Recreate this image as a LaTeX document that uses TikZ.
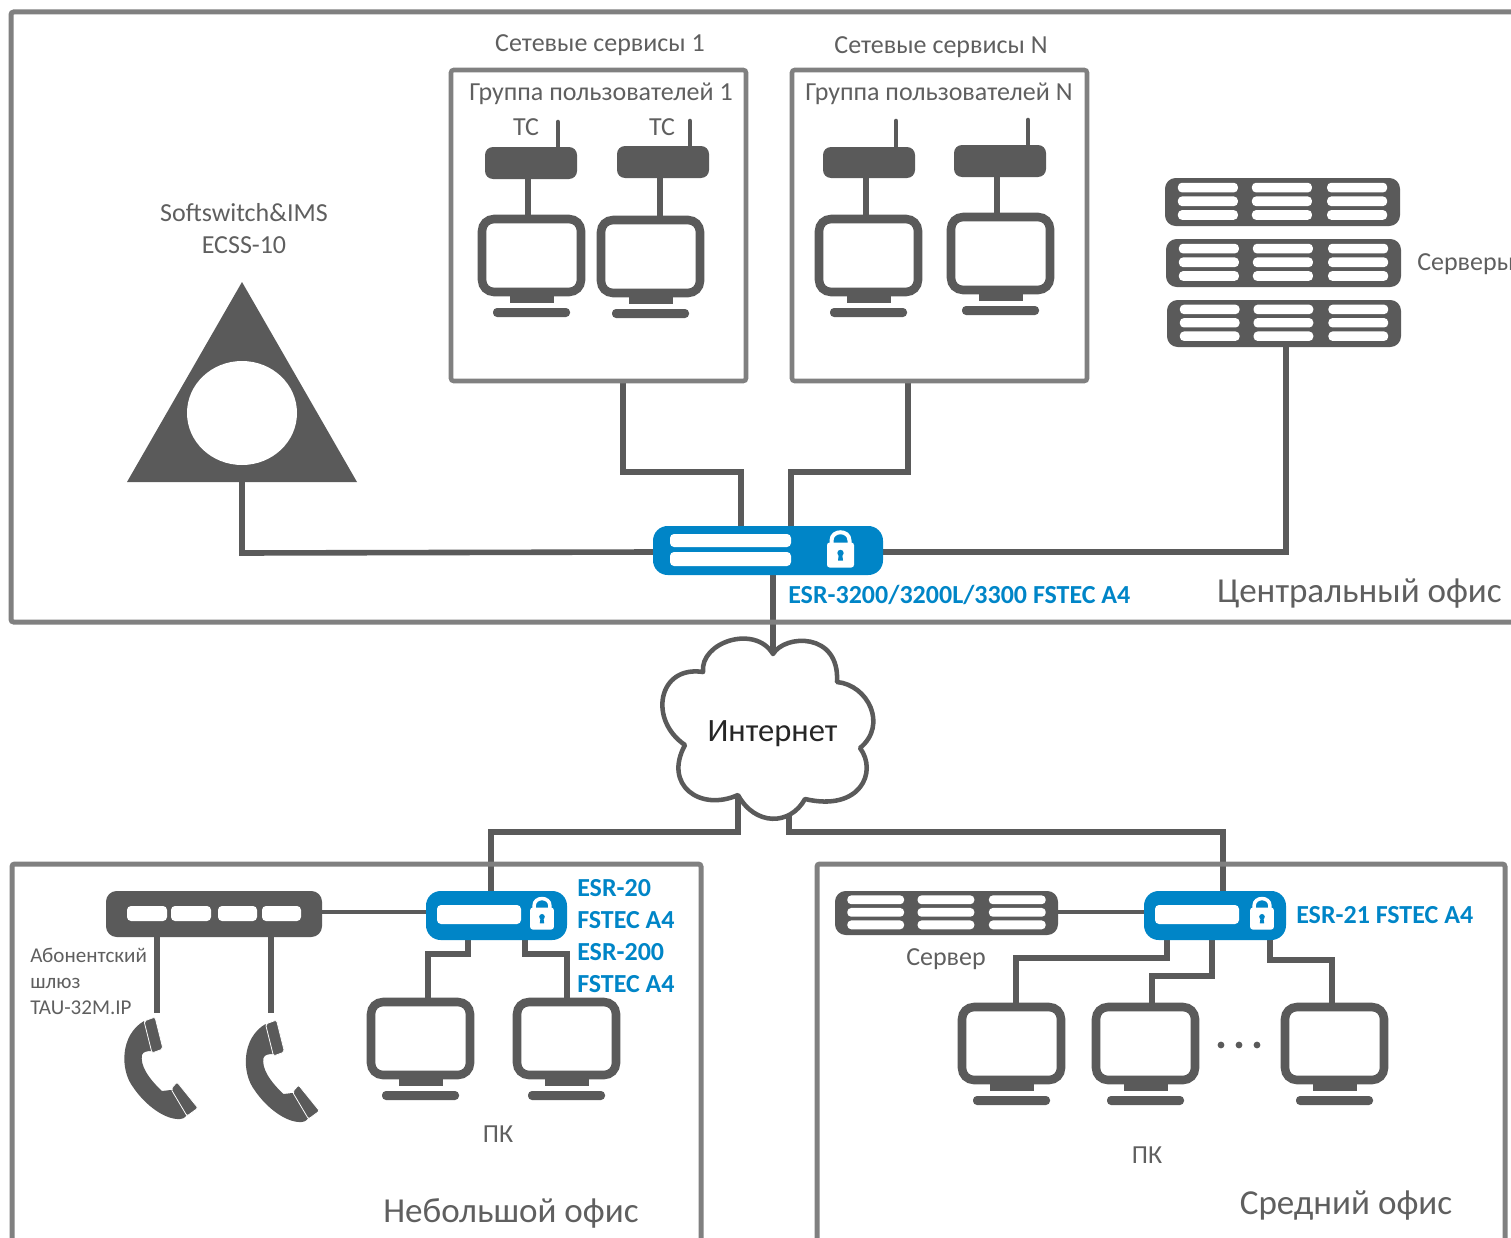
\documentclass[tikz,border=0pt]{standalone}
\usepackage{fontspec}
\setmainfont{Carlito}
\pgfdeclarelayer{bg}
\pgfsetlayers{bg,main}
\definecolor{dk}{HTML}{5A5A5A}
\definecolor{fr}{HTML}{808080}
\definecolor{bl}{HTML}{0085C7}
\definecolor{tx}{HTML}{5F5F5F}
\tikzset{
  frame/.style={draw=fr,line width=3.75pt,rounded corners=2pt},
  gbox/.style={draw=fr,line width=3.4pt,rounded corners=2pt},
  mon/.style={draw=dk,fill=white,line width=6.4pt,rounded corners=9pt},
  tc/.style={fill=dk,rounded corners=6pt},
  srv/.style={fill=dk,rounded corners=8pt},
  esr/.style={fill=bl,rounded corners=11pt},
  slot/.style={fill=white,rounded corners=3pt},
  link/.style={draw=dk,line width=4.2pt,line join=miter},
  thin link/.style={draw=dk,line width=3.4pt},
  lbl/.style={text=tx,font=\fontsize{19.5}{22}\selectfont,inner sep=0pt},
  small/.style={text=tx,font=\fontsize{15.8}{18}\selectfont,inner sep=0pt,anchor=west},
  big/.style={text=tx,font=\fontsize{26.3}{28}\selectfont,inner sep=0pt},
  blue/.style={text=bl,font=\bfseries\fontsize{19.5}{22}\selectfont,inner sep=0pt,anchor=west},
}
\newcommand\bx[6]{% style,name,x1,y1,x2,y2
  \pgfmathsetmacro\myw{((#5)-(#3))*.75}\pgfmathsetmacro\myh{((#6)-(#4))*.75}
  \pgfmathsetmacro\mycx{((#3)+(#5))/2}\pgfmathsetmacro\mycy{((#4)+(#6))/2}
  \node[#1,inner sep=0pt,outer sep=0pt,minimum width=\myw pt,minimum height=\myh pt] (#2) at (\mycx,\mycy) {};}
\newcommand\pcunit[3]{% name, outer-left, outer-top
  \bx{mon}{#1}{#2+4}{#3+4}{#2+103}{#3+77}
  \fill[dk] ({#2+32},{#3+80}) rectangle ({#2+76},{#3+88});
  \fill[dk,rounded corners=3pt] ({#2+15},{#3+93}) rectangle ({#2+92},{#3+102});}
\newcommand\srvunit[5]{%
  \bx{srv}{#1}{#2}{#3}{#4}{#5}
  \foreach \c/\d in {.055/.31,.37/.625,.69/.945}{
    \foreach \e/\f in {.1/.3,.385/.585,.67/.87}{
      \fill[slot] ({#2+\c*(#4-#2)},{#3+\e*(#5-#3)}) rectangle ({#2+\d*(#4-#2)},{#3+\f*(#5-#3)});
    }}}
\newcommand\lockicon[3]{% cx, top, scale
  \begin{scope}[shift={(#1,#2)},scale=#3]
    \pgfmathsetmacro\lw{3*#3}
    \draw[white,line width=\lw pt] (-9,14) -- (-9,10) .. controls (-9,-1) and (9,-1) .. (9,10) -- (9,14);
    \fill[white,rounded corners=2pt] (-13.5,12) rectangle (13.5,37);
    \fill[bl] (0,22.5) circle[radius=3.2];
    \fill[bl] (-1.6,23) -- (1.6,23) -- (2.5,30) -- (-2.5,30) -- cycle;
  \end{scope}}
\newcommand\phone[2]{%
  \begin{scope}[shift={(#1,#2)}]
    \fill[dk] (44,141) .. controls (20,155) and (20,190) .. (33,207)
      .. controls (45,225) and (65,240) .. (80,239)
      .. controls (85,239) and (87,235) .. (87,233)
      -- (72,210) .. controls (68,210) and (65,211) .. (62,211)
      .. controls (48,198) and (40,185) .. (42,175)
      .. controls (43,172) and (46,171) .. (52,171) -- cycle;
    \filldraw[fill=dk,draw=white,line width=.6pt,rounded corners=1.5pt] (44,141) -- (55,137) -- (63,169) -- (52,173) -- cycle;
    \filldraw[fill=dk,draw=white,line width=.6pt,rounded corners=1.5pt] (71,209) -- (77,202) -- (98,228) -- (87,236) -- cycle;
  \end{scope}}
\begin{document}
\begin{tikzpicture}[x=.75pt,y=-.75pt]
\useasboundingbox (0,0) rectangle (1511,1238);
\clip (0,0) rectangle (1511,1238);
% frames
\bx{frame}{central}{11}{12}{1530}{622}
\bx{frame}{smalloffice}{12}{864}{701}{1260}
\bx{frame}{midoffice}{817}{864}{1505}{1260}
\bx{gbox}{box1}{451}{70}{746}{381}
\bx{gbox}{boxN}{792}{70}{1087}{381}
% softswitch
\fill[dk] (242,282) -- (357,482) -- (127,482) -- cycle;
\fill[white] (242,413) ellipse[x radius=55,y radius=52];
\coordinate (soft) at (242,482);
\node[lbl] (softa) at (244,213) {Softswitch\&IMS};
\node[lbl] (softb) at (244,245) {ECSS-10};
% group 1
\node[lbl] (t1) at (600,45) {Сетевые сервисы 1};
\node[lbl] (t2) at (601,94) {Группа пользователей 1};
\node[lbl] (t3) at (526,127) {ТС};
\node[lbl] (t4) at (662,127) {ТС};
\bx{tc}{tca}{485}{147}{577}{179}
\bx{tc}{tcb}{617}{146}{709}{178}
\pcunit{ma}{478}{215}
\pcunit{mb}{597}{216}
% group N
\node[lbl] (t5) at (941,47) {Сетевые сервисы N};
\node[lbl] (t6) at (939,94) {Группа пользователей N};
\bx{tc}{tcc}{823}{147}{915}{178}
\bx{tc}{tcd}{954}{145}{1046}{177}
\pcunit{mc}{815}{215}
\pcunit{md}{947}{213}
% servers
\srvunit{sa}{1165}{178}{1400}{226}
\srvunit{sb}{1166}{239}{1401}{287}
\srvunit{sc}{1167}{300}{1401}{347}
\node[lbl,anchor=west] (t7) at (1417,264) {Серверы};
% central router
\bx{esr}{rc}{653}{526}{883}{575}
\fill[slot] (670,534) rectangle (791,547);
\fill[slot] (670,552) rectangle (791,566);
\lockicon{840.5}{530.5}{1}
\node[blue] (t8) at (788,595) {ESR-3200/3200L/3300 FSTEC A4};
\node[big,anchor=east] (t9) at (1502,594) {Центральный офис};
% cloud
\draw[draw=dk,fill=white,line width=3.4pt,line join=round] (773,654)
  .. controls (785,634) and (840,632) .. (837,682)
  .. controls (868,685) and (888,725) .. (860,748)
  .. controls (878,772) and (860,812) .. (805,799)
  .. controls (790,826) and (755,826) .. (738,795)
  .. controls (700,812) and (663,785) .. (685,745)
  .. controls (648,720) and (658,665) .. (703,672)
  .. controls (700,642) and (755,624) .. (773,654) -- cycle;
\coordinate (cloudtop) at (773,654);
\coordinate (cloudl) at (738,795);
\coordinate (cloudr) at (789,812);
\node[text=black!85,font=\fontsize{24.4}{26}\selectfont,inner sep=0pt] (inet) at (772.5,734) {Интернет};
% small office
\bx{srv}{tau}{106}{891}{322}{937}
\foreach \a/\b in {127/167,171/211,218/257,262/301}{\fill[slot] (\a,906) rectangle (\b,921);}
\bx{esr}{rs}{426}{891}{567}{940}
\fill[slot] (437,905) rectangle (521,924);
\lockicon{542}{897}{.88}
\node[blue] (t10) at (577,888) {ESR-20};
\node[blue] (t11) at (577,920) {FSTEC A4};
\node[blue] (t12) at (577,952) {ESR-200};
\node[blue] (t13) at (577,984) {FSTEC A4};
\node[small] (t14) at (30,955) {Абонентский};
\node[small] (t15) at (30,983) {шлюз};
\node[small] (t16) at (30,1008) {TAU-32M.IP};
\phone{100}{880}
\phone{221.5}{883}
\coordinate (pha) at (157,1013);
\coordinate (phb) at (271,1013);
\pcunit{me}{367}{998}
\pcunit{mf}{513}{998}
\node[lbl] (t17) at (498,1134) {ПК};
\node[big] (t18) at (511,1213) {Небольшой офис};
% mid office
\srvunit{sd}{835}{891}{1058}{935}
\node[lbl] (t19) at (946,959) {Сервер};
\bx{esr}{rm}{1144}{891}{1286}{940}
\fill[slot] (1155,905) rectangle (1239,924);
\lockicon{1262}{897}{.88}
\node[blue] (t20) at (1296,915) {ESR-21 FSTEC A4};
\pcunit{mg}{958}{1003}
\pcunit{mh}{1092}{1003}
\pcunit{mi}{1281}{1003}
\foreach \x in {1221,1239,1257}{\fill[dk] (\x,1045) circle[radius=3.4];}
\node[lbl] (t21) at (1147,1155) {ПК};
\node[big] (t22) at (1346,1206) {Средний офис};
% connectors
\begin{pgfonlayer}{bg}
\coordinate (a1) at (558,122); \coordinate (a2) at (690,121);
\coordinate (a3) at (896,121); \coordinate (a4) at (1028,120);
\draw[thin link,line cap=round] (a1) -- (a1 |- tca.north);
\draw[thin link,line cap=round] (a2) -- (a2 |- tcb.north);
\draw[thin link,line cap=round] (a3) -- (a3 |- tcc.north);
\draw[thin link,line cap=round] (a4) -- (a4 |- tcd.north);
\coordinate (l1) at (528,200); \coordinate (l2) at (660,200);
\coordinate (l3) at (866,200); \coordinate (l4) at (997,200);
\draw[link] (l1 |- tca.south) -- (l1 |- ma.north);
\draw[link] (l2 |- tcb.south) -- (l2 |- mb.north);
\draw[link] (l3 |- tcc.south) -- (l3 |- mc.north);
\draw[link] (l4 |- tcd.south) -- (l4 |- md.north);
% central
\coordinate (e1) at (623,472); \coordinate (e2) at (741,472);
\coordinate (e3) at (908,472); \coordinate (e4) at (791,472);
\draw[link] (box1.south -| e1) -- (e1) -- (e2) -- (e2 |- rc.north);
\draw[link] (boxN.south -| e3) -- (e3) -- (e4) -- (e4 |- rc.north);
\coordinate (e5) at (242,553); \coordinate (e6) at (1286,552);
\draw[link] (soft) -- (e5) -- (rc.west |- e6);
\draw[link] (sc.south -| e6) -- (e6) -- (rc.east |- e6);
\coordinate (e7) at (773,600);
\draw[link] (e7 |- rc.south) -- (cloudtop);
% lower
\coordinate (e8) at (738,832); \coordinate (e9) at (491,832);
\coordinate (e10) at (789,832); \coordinate (e11) at (1223,832);
\draw[link] (cloudl) -- (e8) -- (e9) -- (e9 |- rs.north);
\draw[link] (cloudr) -- (e10) -- (e11) -- (e11 |- rm.north);
\coordinate (e12) at (330,912);
\draw[thin link] (tau.east |- e12) -- (rs.west |- e12);
\draw[thin link] (sd.east |- e12) -- (rm.west |- e12);
\draw[link] (pha |- tau.south) -- (pha);
\draw[link] (phb |- tau.south) -- (phb);
\coordinate (f1) at (468,954); \coordinate (f2) at (428,954);
\coordinate (f3) at (525,954); \coordinate (f4) at (567,954);
\draw[link] (f1 |- rs.south) -- (f1) -- (f2) -- (f2 |- me.north);
\draw[link] (f3 |- rs.south) -- (f3) -- (f4) -- (f4 |- mf.north);
\coordinate (g1) at (1167,958); \coordinate (g2) at (1016,958);
\coordinate (g3) at (1212,976); \coordinate (g4) at (1152,976);
\coordinate (g5) at (1270,960); \coordinate (g6) at (1332,960);
\draw[link] (g1 |- rm.south) -- (g1) -- (g2) -- (g2 |- mg.north);
\draw[link] (g3 |- rm.south) -- (g3) -- (g4) -- (g4 |- mh.north);
\draw[link] (g5 |- rm.south) -- (g5) -- (g6) -- (g6 |- mi.north);
\end{pgfonlayer}
\end{tikzpicture}
\end{document}
